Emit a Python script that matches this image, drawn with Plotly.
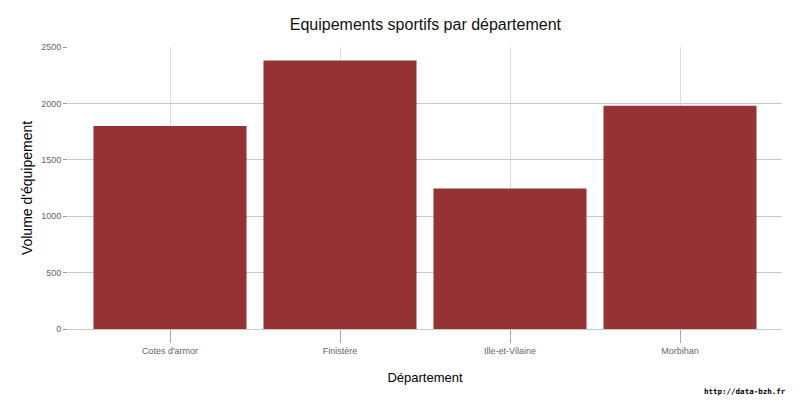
import plotly.graph_objects as go

departements = ["Cotes d'armor", "Finistère", "Ille-et-Vilaine", "Morbihan"]
volumes = [1800, 2380, 1245, 1980]
y_ticks = [0, 500, 1000, 1500, 2000, 2500]

bar_color = "#943234"

# the page puts the figure 8px in from the top-left corner, so the figure
# is a little smaller than the window
fig = go.Figure()
fig.add_trace(go.Bar(x=departements, y=volumes, marker_color=bar_color,
                     marker_line_width=0, width=0.9))

fig.update_layout(
    width=792, height=392,
    paper_bgcolor="white", plot_bgcolor="white",
    margin=dict(l=60, r=18, t=39, b=71, autoexpand=False),
    font=dict(family="Liberation Sans, Arial, sans-serif", color="#000"),
    title=dict(text="Equipements sportifs par département", x=0.527, xanchor="center",
               y=0.958, yanchor="middle", font=dict(size=16, color="#111")),
    showlegend=False,
)
fig.update_xaxes(
    range=[-0.6, 3.6], showgrid=True, gridcolor="#dcdcdc", gridwidth=1,
    ticks="outside", ticklen=13, tickcolor="#aaa", tickfont=dict(size=9, color="#666"),
    title=dict(text="Département", font=dict(size=13), standoff=18),
    showline=True, linecolor="#c8c8c8", zeroline=False, automargin=False,
)
fig.update_yaxes(
    range=[0, 2500], tickvals=y_ticks, showgrid=True, gridcolor="#c8c8c8", gridwidth=1,
    ticks="outside", ticklen=4, tickcolor="#999", tickfont=dict(size=9, color="#666"),
    title=dict(text="Volume d'équipement", font=dict(size=14), standoff=5),
    zeroline=False, showline=False, automargin=False,
)
fig.add_annotation(text="<b>http://data-bzh.fr</b>", xref="paper", yref="paper",
                   x=1.0084, y=-0.223, xanchor="right", yanchor="middle", showarrow=False,
                   font=dict(family="DejaVu Sans Mono, monospace", size=7.5, color="#000"))

fig.write_html("out.html")
